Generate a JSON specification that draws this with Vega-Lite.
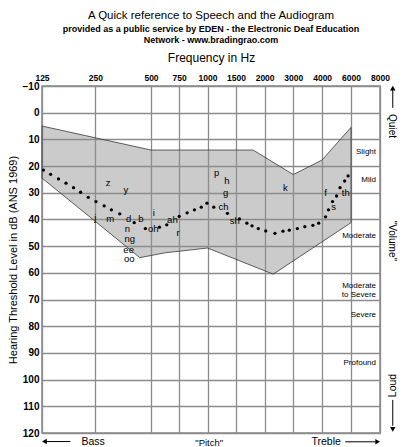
{
  "$schema": "https://vega.github.io/schema/vega-lite/v6.json",
  "width": 338,
  "height": 347,
  "autosize": {"type": "none"},
  "padding": {"left": 42, "top": 86, "right": 29, "bottom": 14},
  "background": "white",
  "config": {
    "font": "Liberation Sans",
    "view": {"stroke": "#888888", "strokeWidth": 1.5}
  },
  "title": {
    "text": "A Quick reference to Speech and the Audiogram",
    "subtitle": ["provided as a public service by EDEN - the Electronic Deaf Education", "Network - www.bradingrao.com"],
    "fontSize": 11.5,
    "fontWeight": "normal",
    "color": "black",
    "subtitleFontSize": 9,
    "subtitleFontWeight": "bold",
    "subtitleColor": "black",
    "subtitlePadding": 4,
    "subtitleLineHeight": 11,
    "anchor": "middle",
    "frame": "group",
    "offset": 6
  },
  "datasets": {
    "banana": [
      {"i": 1, "octave": 0, "db": 5},
      {"i": 2, "octave": 2, "db": 14},
      {"i": 3, "octave": 3.8, "db": 14},
      {"i": 4, "octave": 4.5, "db": 23.2},
      {"i": 5, "octave": 5, "db": 17.7},
      {"i": 6, "octave": 5.5, "db": 5.5},
      {"i": 7, "octave": 5.5, "db": 41.2},
      {"i": 8, "octave": 4.15, "db": 60.5},
      {"i": 9, "octave": 3, "db": 50.7},
      {"i": 10, "octave": 2.25, "db": 52.5},
      {"i": 11, "octave": 1.8, "db": 54.3},
      {"i": 12, "octave": 0, "db": 24.5}
    ],
    "dots": [
      {"octave": 0.03, "db": 21.5}, {"octave": 0.17, "db": 23.1}, {"octave": 0.32, "db": 24.8},
      {"octave": 0.46, "db": 26.4}, {"octave": 0.6, "db": 28.1}, {"octave": 0.73, "db": 29.8},
      {"octave": 0.87, "db": 31.7}, {"octave": 1.01, "db": 33.3}, {"octave": 1.16, "db": 34.9},
      {"octave": 1.29, "db": 36.4}, {"octave": 1.44, "db": 37.9}, {"octave": 1.7, "db": 41.2},
      {"octave": 1.9, "db": 43.4}, {"octave": 2.15, "db": 42.9}, {"octave": 2.28, "db": 42},
      {"octave": 2.5, "db": 38.9}, {"octave": 2.64, "db": 37.5}, {"octave": 2.77, "db": 36.4},
      {"octave": 2.89, "db": 35.4}, {"octave": 2.99, "db": 33.9}, {"octave": 3.11, "db": 35.4},
      {"octave": 3.35, "db": 37.7}, {"octave": 3.56, "db": 39.8}, {"octave": 3.69, "db": 41.4},
      {"octave": 3.78, "db": 42.4}, {"octave": 3.89, "db": 43.4}, {"octave": 4.02, "db": 44.3},
      {"octave": 4.18, "db": 45.2}, {"octave": 4.32, "db": 44.4}, {"octave": 4.43, "db": 44},
      {"octave": 4.57, "db": 43.4}, {"octave": 4.7, "db": 42.7}, {"octave": 4.84, "db": 42.2},
      {"octave": 4.94, "db": 41.4}, {"octave": 5.06, "db": 39}, {"octave": 5.11, "db": 36.4},
      {"octave": 5.18, "db": 33.3}, {"octave": 5.25, "db": 31.2}, {"octave": 5.31, "db": 28.1},
      {"octave": 5.39, "db": 25.6}, {"octave": 5.45, "db": 23.7}
    ],
    "sounds": [
      {"sound": "z", "octave": 1.23, "db": 26.5},
      {"sound": "y", "octave": 1.55, "db": 29.1},
      {"sound": "j", "octave": 1.0, "db": 39.6},
      {"sound": "m", "octave": 1.27, "db": 40},
      {"sound": "d", "octave": 1.6, "db": 40},
      {"sound": "b", "octave": 1.82, "db": 39.8},
      {"sound": "n", "octave": 1.58, "db": 43.6},
      {"sound": "ng", "octave": 1.62, "db": 47.4},
      {"sound": "ee", "octave": 1.6, "db": 51.3},
      {"sound": "oo", "octave": 1.61, "db": 54.9},
      {"sound": "i", "octave": 2.05, "db": 37.5},
      {"sound": "oh", "octave": 2.04, "db": 43.6},
      {"sound": "ah", "octave": 2.38, "db": 40.2},
      {"sound": "r", "octave": 2.48, "db": 45.2},
      {"sound": "p", "octave": 3.16, "db": 22.5},
      {"sound": "h", "octave": 3.34, "db": 25.6},
      {"sound": "g", "octave": 3.32, "db": 30.2},
      {"sound": "ch", "octave": 3.28, "db": 35.2},
      {"sound": "sh", "octave": 3.48, "db": 40.4},
      {"sound": "k", "octave": 4.36, "db": 28.1},
      {"sound": "f", "octave": 5.06, "db": 30},
      {"sound": "th", "octave": 5.41, "db": 30.2},
      {"sound": "s", "octave": 5.2, "db": 35.2}
    ],
    "degrees": [
      {"degree": "Slight", "db": 14.6},
      {"degree": "Mild", "db": 25.2},
      {"degree": "Moderate", "db": 46.1},
      {"degree": "Moderate\nto Severe", "db": 64.9},
      {"degree": "Severe", "db": 75.8},
      {"degree": "Profound", "db": 93.9}
    ]
  },
  "layer": [
    {
      "data": {"name": "banana"},
      "mark": {"type": "line", "interpolate": "linear-closed", "fill": "#8c8c8c", "fillOpacity": 0.45, "stroke": "#3a3a3a", "strokeWidth": 0.8},
      "encoding": {
        "x": {
          "field": "octave", "type": "quantitative",
          "scale": {"type": "pow", "exponent": 1.03, "domain": [0, 6], "nice": false, "zero": false},
          "axis": {
            "orient": "top",
            "values": [0, 1, 2, 2.5, 3, 3.5, 4, 4.5, 5, 5.5, 6],
            "tickCount": 30,
            "labelExpr": "125 * pow(2, floor(datum.value)) * (datum.value % 1 ? 1.5 : 1)",
            "labelFont": "Liberation Sans", "labelFontWeight": "bold", "labelFontSize": 8.5, "labelColor": "black",
            "labelFlush": false, "labelOverlap": false, "labelPadding": 4,
            "tickSize": 0, "domain": false,
            "grid": true, "gridColor": "#8c8c8c", "gridWidth": 1.3,
            "title": "Frequency in Hz", "titleFontSize": 12, "titleFontWeight": "normal", "titleColor": "black", "titlePadding": 9
          }
        },
        "y": {
          "field": "db", "type": "quantitative",
          "scale": {"domain": [-10, 120], "reverse": true, "nice": false, "zero": false},
          "axis": {
            "values": [-10, 0, 10, 20, 30, 40, 50, 60, 70, 80, 90, 100, 110, 120],
            "tickCount": 30,
            "labelOverlap": false,
            "labelFontWeight": "bold", "labelFontSize": 10, "labelColor": "black", "labelPadding": 3,
            "tickSize": 0, "domain": false,
            "grid": true, "gridColor": "#8c8c8c", "gridWidth": 1.3,
            "title": "Hearing Threshold Level in dB (ANS 1969)", "titleFontSize": 11, "titleFontWeight": "normal", "titleColor": "black", "titlePadding": 4
          }
        },
        "order": {"field": "i", "type": "quantitative"}
      }
    },
    {
      "data": {"name": "dots"},
      "mark": {"type": "point", "filled": true, "color": "black", "size": 11, "opacity": 1},
      "encoding": {
        "x": {"field": "octave", "type": "quantitative"},
        "y": {"field": "db", "type": "quantitative"}
      }
    },
    {
      "data": {"name": "sounds"},
      "mark": {"type": "text", "fontSize": 9.5, "color": "black", "baseline": "middle", "align": "center"},
      "encoding": {
        "x": {"field": "octave", "type": "quantitative"},
        "y": {"field": "db", "type": "quantitative"},
        "text": {"field": "sound"}
      }
    },
    {
      "data": {"name": "degrees"},
      "mark": {"type": "text", "fontSize": 8, "color": "black", "baseline": "middle", "align": "right", "dx": -4, "lineBreak": "\n", "lineHeight": 9},
      "encoding": {
        "x": {"datum": 6},
        "y": {"field": "db", "type": "quantitative"},
        "text": {"field": "degree"}
      }
    },
    {
      "data": {"values": [{}]},
      "mark": {"type": "text", "fontSize": 10, "color": "black", "angle": 90, "baseline": "middle", "align": "center"},
      "encoding": {"x": {"datum": 6.2}, "y": {"datum": 5}, "text": {"value": "Quiet"}}
    },
    {
      "data": {"values": [{}]},
      "mark": {"type": "text", "fontSize": 10, "color": "black", "angle": 90, "baseline": "middle", "align": "center"},
      "encoding": {"x": {"datum": 6.2}, "y": {"datum": 48}, "text": {"value": "\"Volume\""}}
    },
    {
      "data": {"values": [{}]},
      "mark": {"type": "text", "fontSize": 10.5, "color": "black", "angle": 270, "baseline": "middle", "align": "center"},
      "encoding": {"x": {"datum": 6.22}, "y": {"datum": 102.2}, "text": {"value": "Loud"}}
    },
    {
      "data": {"values": [{}]},
      "mark": {"type": "rule", "color": "black", "strokeWidth": 1},
      "encoding": {"x": {"datum": 6.22}, "y": {"datum": -8.5}, "y2": {"datum": -1.8}}
    },
    {
      "data": {"values": [{}]},
      "mark": {"type": "point", "shape": "triangle-up", "filled": true, "color": "black", "size": 30, "opacity": 1},
      "encoding": {"x": {"datum": 6.22}, "y": {"datum": -9.2}}
    },
    {
      "data": {"values": [{}]},
      "mark": {"type": "rule", "color": "black", "strokeWidth": 1},
      "encoding": {"x": {"datum": 6.22}, "y": {"datum": 107.6}, "y2": {"datum": 117.3}}
    },
    {
      "data": {"values": [{}]},
      "mark": {"type": "point", "shape": "triangle-down", "filled": true, "color": "black", "size": 30, "opacity": 1},
      "encoding": {"x": {"datum": 6.22}, "y": {"datum": 118.6}}
    },
    {
      "data": {"values": [{}]},
      "mark": {"type": "text", "fontSize": 10.5, "color": "black", "baseline": "middle", "align": "center"},
      "encoding": {"x": {"datum": 0.96}, "y": {"datum": 123.3}, "text": {"value": "Bass"}}
    },
    {
      "data": {"values": [{}]},
      "mark": {"type": "text", "fontSize": 9.5, "color": "black", "baseline": "middle", "align": "center"},
      "encoding": {"x": {"datum": 3.03}, "y": {"datum": 123.6}, "text": {"value": "\"Pitch\""}}
    },
    {
      "data": {"values": [{}]},
      "mark": {"type": "text", "fontSize": 10.5, "color": "black", "baseline": "middle", "align": "center"},
      "encoding": {"x": {"datum": 5.07}, "y": {"datum": 123.3}, "text": {"value": "Treble"}}
    },
    {
      "data": {"values": [{}]},
      "mark": {"type": "rule", "color": "black", "strokeWidth": 1},
      "encoding": {"x": {"datum": 0.08}, "x2": {"datum": 0.54}, "y": {"datum": 123.2}}
    },
    {
      "data": {"values": [{}]},
      "mark": {"type": "point", "shape": "triangle-left", "filled": true, "color": "black", "size": 30, "opacity": 1},
      "encoding": {"x": {"datum": 0.05}, "y": {"datum": 123.2}}
    },
    {
      "data": {"values": [{}]},
      "mark": {"type": "rule", "color": "black", "strokeWidth": 1},
      "encoding": {"x": {"datum": 5.4}, "x2": {"datum": 5.92}, "y": {"datum": 123.3}}
    },
    {
      "data": {"values": [{}]},
      "mark": {"type": "point", "shape": "triangle-right", "filled": true, "color": "black", "size": 30, "opacity": 1},
      "encoding": {"x": {"datum": 5.96}, "y": {"datum": 123.3}}
    }
  ]
}
